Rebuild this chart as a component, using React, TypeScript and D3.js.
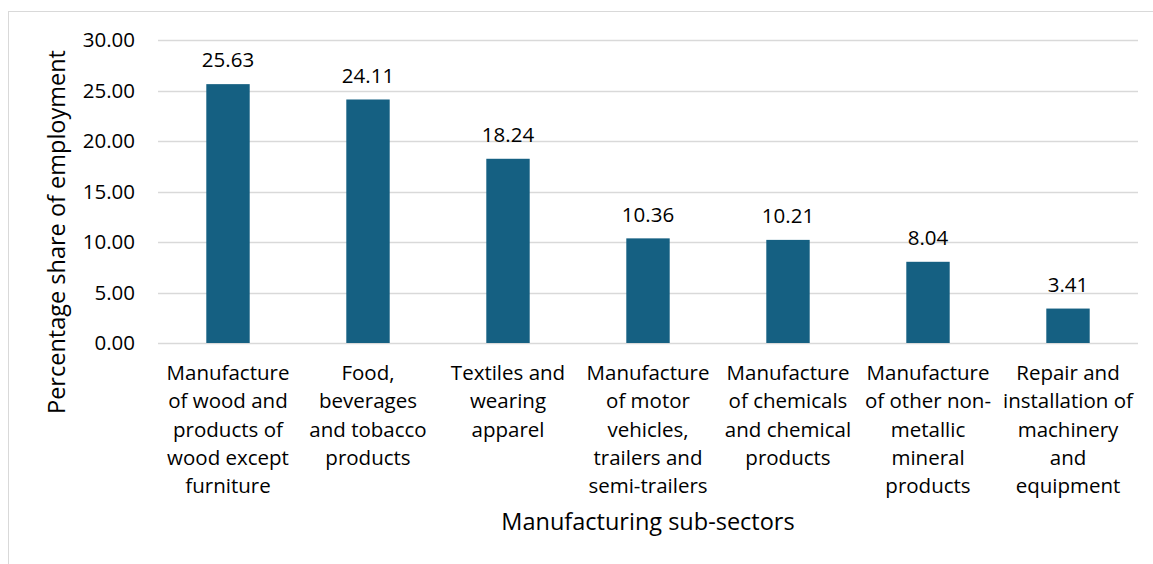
import React from "react";
import * as d3 from "d3";

const categories: string[][] = [
  ["Manufacture", "of wood and", "products of", "wood except", "furniture"],
  ["Food,", "beverages", "and tobacco", "products"],
  ["Textiles and", "wearing", "apparel"],
  ["Manufacture", "of motor", "vehicles,", "trailers and", "semi-trailers"],
  ["Manufacture", "of chemicals", "and chemical", "products"],
  ["Manufacture", "of other non-", "metallic", "mineral", "products"],
  ["Repair and", "installation of", "machinery", "and", "equipment"],
];
const values: number[] = [25.63, 24.11, 18.24, 10.36, 10.21, 8.04, 3.41];
const yTicks: number[] = [0, 5, 10, 15, 20, 25, 30];

const W = 1153;
const H = 564;
const FONT = "'Open Sans', sans-serif";
const BAR = "#156082";
const LABEL_SIZE = 20.5;
const TITLE_SIZE = 23.5;

export default function App() {
  const plotLeft = 158;
  const plotRight = 1138;
  const plotTop = 40;
  const plotBottom = 343;

  const x = d3
    .scaleBand<number>()
    .domain(values.map((_, i) => i))
    .range([plotLeft, plotRight])
    .paddingInner(0.69)
    .paddingOuter(0.345);
  const y = d3.scaleLinear().domain([0, 30]).range([plotBottom, plotTop]);

  return (
    <svg
      width={W}
      height={H}
      style={{ position: "absolute", left: 0, top: 0, background: "#fff" }}
    >
      <rect x={8.5} y={11.5} width={W} height={H} fill="none" stroke="#d9d9d9" strokeWidth={1} />
      {yTicks.map((t) => (
        <g key={t}>
          <line
            x1={plotLeft}
            x2={plotRight}
            y1={Math.round(y(t)) + 0.5}
            y2={Math.round(y(t)) + 0.5}
            stroke="#d9d9d9"
            strokeWidth={1.5}
          />
          <text
            x={135}
            y={y(t)}
            dy="0.35em"
            textAnchor="end"
            fontFamily={FONT}
            fontSize={LABEL_SIZE}
            fill="#000"
          >
            {d3.format(".2f")(t)}
          </text>
        </g>
      ))}
      {values.map((v, i) => {
        const bx = x(i)!;
        const cx = bx + x.bandwidth() / 2;
        return (
          <g key={i}>
            <rect x={bx} y={y(v)} width={x.bandwidth()} height={y(0) - y(v)} fill={BAR} />
            <text
              x={cx}
              y={y(v) - 24}
              dy="0.35em"
              textAnchor="middle"
              fontFamily={FONT}
              fontSize={LABEL_SIZE}
              fill="#000"
            >
              {d3.format(".2f")(v)}
            </text>
            {categories[i].map((line, j) => (
              <text
                key={j}
                x={cx}
                y={373 + j * 28.2}
                dy="0.35em"
                textAnchor="middle"
                fontFamily={FONT}
                fontSize={LABEL_SIZE}
                fill="#000"
              >
                {line}
              </text>
            ))}
          </g>
        );
      })}
      <text
        transform={`translate(57,232) rotate(-90)`}
        textAnchor="middle"
        dy="0.35em"
        fontFamily={FONT}
        fontSize={TITLE_SIZE}
        fill="#000"
      >
        Percentage share of employment
      </text>
      <text
        x={648}
        y={522}
        dy="0.35em"
        textAnchor="middle"
        fontFamily={FONT}
        fontSize={TITLE_SIZE}
        fill="#000"
      >
        Manufacturing sub-sectors
      </text>
    </svg>
  );
}
